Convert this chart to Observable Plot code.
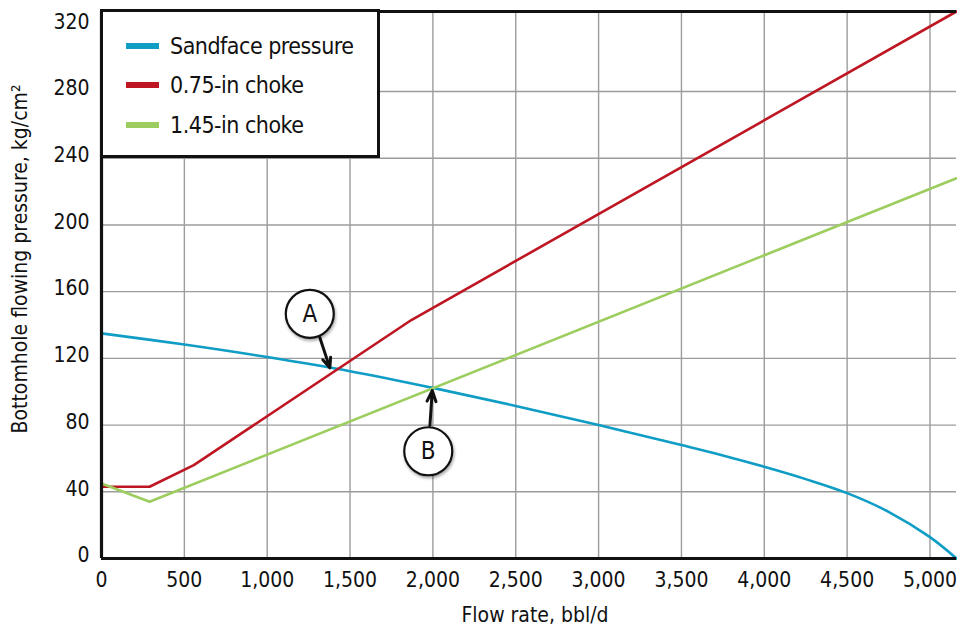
<!DOCTYPE html>
<html><head><meta charset="utf-8">
<script src="https://cdn.jsdelivr.net/npm/d3@7"></script>
<script src="https://cdn.jsdelivr.net/npm/@observablehq/plot@0.6"></script>
<style>
body{margin:0;background:#fff;}
#wrap{position:relative;width:957px;height:628px;font-family:"Liberation Sans Narrow","DejaVu Sans Condensed",Roboto,sans-serif;}
#legend{position:absolute;left:100px;top:9px;width:280px;height:149px;box-sizing:border-box;border:3px solid #111;background:#fff;padding-top:14px;}
.row{display:flex;align-items:center;height:39.5px;}
.sw{width:33px;height:6px;margin-left:23px;margin-right:11px;}
.lab{font-size:23px;color:#111;letter-spacing:-0.5px;}
.shadow circle{filter:drop-shadow(1px 2px 1.5px rgba(0,0,0,0.35));}
</style></head><body><div id="wrap"></div>
<script>
// Data
const sandfaceRate = [0,500,1000,1500,2000,2500,3000,3500,3750,4000,4250,4500,4750,5000,5160];
const sandfacePres = [135,128.3,120.8,112.3,102.3,91.5,80,68,61.8,55,47.6,39.2,28,12.8,0];
const choke075Rate = [0,290,557,1870,5160];
const choke075Pres = [43,43,56,143,328];
const choke145Rate = [0,290,5160];
const choke145Pres = [45,34,228];
const xTicks = [0,500,1000,1500,2000,2500,3000,3500,4000,4500,5000];
const yTicks = [0,40,80,120,160,200,240,280,320];
const seriesNames = ["Sandface pressure","0.75-in choke","1.45-in choke"];
const seriesColors = ["#0f9dc5","#be1622","#9dcd5f"];
const labels = ["A","B"];
const labelX = [1257,1972], labelY = [146.7,64.3];
const arrowX1 = [1317,1982], arrowY1 = [132.7,79.7];
const arrowX2 = [1378,1996], arrowY2 = [114.3,100.7];

const sandface = sandfaceRate.map((x,i)=>({x, y:sandfacePres[i]}));
const c075 = choke075Rate.map((x,i)=>({x, y:choke075Pres[i]}));
const c145 = choke145Rate.map((x,i)=>({x, y:choke145Pres[i]}));
const ann = labels.map((t,i)=>({t, x:labelX[i], y:labelY[i], x1:arrowX1[i], y1:arrowY1[i], x2:arrowX2[i], y2:arrowY2[i]}));
const font = getComputedStyle(document.getElementById("wrap")).fontFamily;

const chart = Plot.plot({
  width: 957, height: 628,
  marginLeft: 101, marginRight: 1, marginTop: 11, marginBottom: 70,
  style: {fontFamily: font, background: "#fff", color: "#111", overflow: "visible"},
  x: {domain: [0, 5160]},
  y: {domain: [0, 328]},
  marks: [
    Plot.gridX(xTicks.slice(1), {stroke: "#9c9c9c", strokeOpacity: 1, strokeWidth: 1.4}),
    Plot.gridY(yTicks.slice(1, -1), {stroke: "#9c9c9c", strokeOpacity: 1, strokeWidth: 1.4}),
    Plot.line(sandface, {x: "x", y: "y", stroke: seriesColors[0], strokeWidth: 2.6, curve: "catmull-rom"}),
    Plot.line(c075, {x: "x", y: "y", stroke: seriesColors[1], strokeWidth: 2.6}),
    Plot.line(c145, {x: "x", y: "y", stroke: seriesColors[2], strokeWidth: 2.6}),
    Plot.ruleY([0], {stroke: "#111", strokeWidth: 3.2}),
    Plot.ruleY([328], {stroke: "#111", strokeWidth: 3.2}),
    Plot.ruleX([0], {stroke: "#111", strokeWidth: 3.2}),
    Plot.arrow(ann, {x1: "x1", y1: "y1", x2: "x2", y2: "y2", stroke: "#111", strokeWidth: 3, headLength: 10, headAngle: 45, strokeLinejoin: "miter"}),
    Plot.dot(ann, {x: "x", y: "y", r: 24, fill: "#fff", stroke: "#111", strokeWidth: 2.2, className: "shadow"}),
    Plot.text(ann, {x: "x", y: "y", text: "t", fontSize: 24, fill: "#111"}),
    Plot.axisX(xTicks, {tickSize: 0, tickPadding: 14, fontSize: 21, tickFormat: d3.format(","), label: null}),
    Plot.axisY(yTicks, {tickSize: 0, tickPadding: 12, fontSize: 21, dy: -3, label: null}),
    Plot.text(["Flow rate, bbl/d"], {frameAnchor: "bottom", dx: 6, dy: 63, fontSize: 21, fill: "#111", letterSpacing: "-0.2px"}),
    Plot.text(["Bottomhole flowing pressure, kg/cm²"], {frameAnchor: "left", textAnchor: "middle", rotate: -90, dx: -81, dy: -26, fontSize: 21, fill: "#111", letterSpacing: "-0.4px"})
  ]
});
const wrap = document.getElementById("wrap");
wrap.appendChild(chart);
const lg = document.createElement("div");
lg.id = "legend";
seriesNames.forEach((n,i)=>{
  const r = document.createElement("div"); r.className = "row";
  r.innerHTML = `<div class="sw" style="background:${seriesColors[i]}"></div><div class="lab">${n}</div>`;
  lg.appendChild(r);
});
wrap.appendChild(lg);
</script></body></html>
